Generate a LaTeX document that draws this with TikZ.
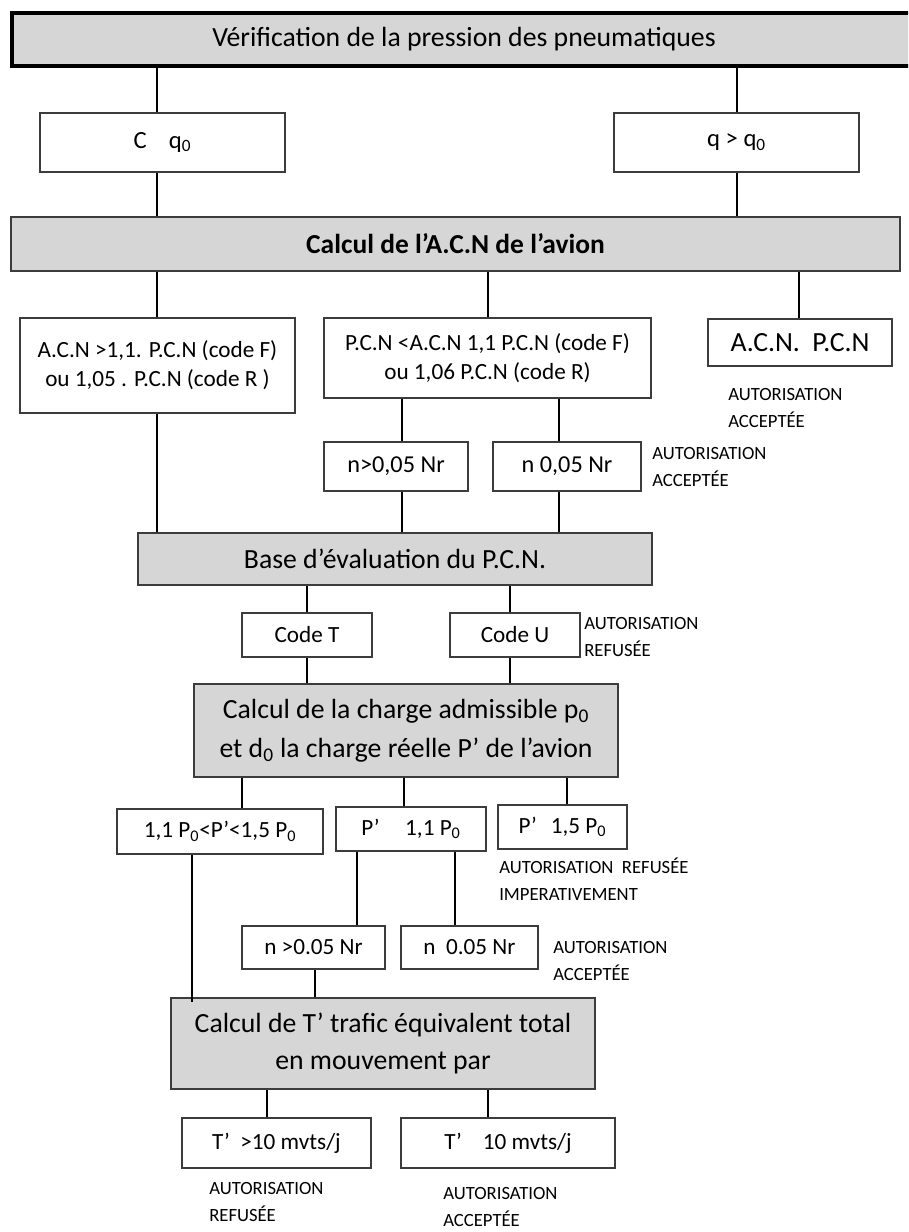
\documentclass[tikz,border=0pt]{standalone}
\usepackage{fontspec}
\setmainfont{Carlito}
\definecolor{greyc}{RGB}{214,214,214}
\definecolor{boxc}{RGB}{60,60,60}
\newcommand\boxat[7]{\node[#1, minimum width={(#4-#2)*0.75pt}, minimum height={(#5-#3)*0.75pt}] (#6) at ({(#2+#4)/2},{(#3+#5)/2}) {#7};}
\begin{document}
\begin{tikzpicture}[x=0.75pt,y=-0.75pt,
  box/.style={draw=boxc, line width=1.5pt, fill=white, inner sep=0pt, align=center, font=\fontsize{17.4}{21.8}\selectfont},
  greybox/.style={box, fill=greyc, font=\fontsize{20.8}{26.5}\selectfont},
  conn/.style={line width=1.8pt, draw=black},
  lab/.style={anchor=west, align=left, inner sep=0pt, font=\fontsize{14}{19.8}\selectfont}]
\clip (0,0) rectangle (908,1232);
\fill[white] (0,0) rectangle (908,1232);
% boxes
\boxat{greybox, draw=black, line width=3.6pt}{12}{13}{916}{66}{top}{Vérification de la pression des pneumatiques}
\boxat{box, font=\fontsize{18.5}{22}\selectfont}{40}{113}{285}{172}{c1}{C\hspace{0.9em}q\textsubscript{0}}
\boxat{box, font=\fontsize{18.5}{22}\selectfont}{614}{113}{859}{172}{c2}{q > q\textsubscript{0}}
\boxat{greybox, font=\bfseries\fontsize{20.6}{26}\selectfont}{11}{217}{900}{271}{acn}{Calcul de l’A.C.N de l’avion}
\boxat{box}{20}{318}{295}{413}{a1}{A.C.N >1,1. P.C.N (code F)\\ou 1,05 . P.C.N (code R )}
\boxat{box}{324}{318}{651}{398}{a2}{P.C.N <A.C.N 1,1 P.C.N (code F)\\ou 1,06 P.C.N (code R)}
\boxat{box, font=\fontsize{20.8}{26}\selectfont}{708}{319}{892}{366}{a3}{A.C.N.\ \ P.C.N}
\node[lab] (l1) at (728,408) {AUTORISATION\\ACCEPTÉE};
\boxat{box, font=\fontsize{18.2}{22}\selectfont}{324}{442}{468}{491}{n1}{n>0,05 Nr}
\boxat{box, font=\fontsize{18.2}{22}\selectfont}{493}{442}{641}{491}{n2}{n 0,05 Nr}
\node[lab] (l2) at (652,467) {AUTORISATION\\ACCEPTÉE};
\boxat{greybox}{138}{533}{652}{585}{base}{Base d’évaluation du P.C.N.}
\boxat{box}{242}{613}{372}{657}{ct}{Code T}
\boxat{box}{450}{613}{580}{657}{cu}{Code U}
\node[lab] (l3) at (584,637) {AUTORISATION\\REFUSÉE};
\boxat{greybox}{194}{684}{618}{777}{charge}{Calcul de la charge admissible p\textsubscript{0}\\[0.3ex]et d\textsubscript{0} la charge réelle P’ de l’avion}
\boxat{box}{117}{809}{323}{854}{p1}{1,1 P\textsubscript{0}<P’<1,5 P\textsubscript{0}}
\boxat{box}{336}{807}{486}{851}{p2}{P’\hspace{1.1em}1,1 P\textsubscript{0}}
\boxat{box}{498}{805}{627}{849}{p3}{P’\hspace{0.6em}1,5 P\textsubscript{0}}
\node[lab] (l4) at (499,879) {AUTORISATION\ \ REFUSÉE\\IMPERATIVEMENT};
\boxat{box}{242}{926}{385}{969}{m1}{n >0.05 Nr}
\boxat{box}{401}{926}{538}{969}{m2}{n\ \ 0.05 Nr}
\node[lab] (l5) at (553,961) {AUTORISATION\\ACCEPTÉE};
\boxat{greybox, font=\fontsize{20.8}{27.7}\selectfont}{171}{998}{595}{1089}{traf}{Calcul de T’ trafic équivalent total\\en mouvement par}
\boxat{box}{182}{1118}{371}{1168}{t1}{T’\ \ >10 mvts/j}
\boxat{box}{401}{1118}{615}{1168}{t2}{T’\hspace{0.9em}10 mvts/j}
\node[lab] (l6) at (209,1202) {AUTORISATION\\REFUSÉE};
\node[lab] (l7) at (443,1207) {AUTORISATION\\ACCEPTÉE};
% connectors
\draw[conn] (157,0 |- top.south) -- (157,0 |- c1.north);
\draw[conn] (737,0 |- top.south) -- (737,0 |- c2.north);
\draw[conn] (157,0 |- c1.south) -- (157,0 |- acn.north);
\draw[conn] (737,0 |- c2.south) -- (737,0 |- acn.north);
\draw[conn] (157,0 |- acn.south) -- (157,0 |- a1.north);
\draw[conn] (488,0 |- acn.south) -- (488,0 |- a2.north);
\draw[conn] (799,0 |- acn.south) -- (799,0 |- a3.north);
\draw[conn] (402,0 |- a2.south) -- (402,0 |- n1.north);
\draw[conn] (559,0 |- a2.south) -- (559,0 |- n2.north);
\draw[conn] (157,0 |- a1.south) -- (157,0 |- base.north);
\draw[conn] (402,0 |- n1.south) -- (402,0 |- base.north);
\draw[conn] (559,0 |- n2.south) -- (559,0 |- base.north);
\draw[conn] (307,0 |- base.south) -- (307,0 |- ct.north);
\draw[conn] (510,0 |- base.south) -- (510,0 |- cu.north);
\draw[conn] (307,0 |- ct.south) -- (307,0 |- charge.north);
\draw[conn] (510,0 |- cu.south) -- (510,0 |- charge.north);
\draw[conn] (242,0 |- charge.south) -- (242,0 |- p1.north);
\draw[conn] (404,0 |- charge.south) -- (404,0 |- p2.north);
\draw[conn] (567,0 |- charge.south) -- (567,0 |- p3.north);
\draw[conn] (192,0 |- p1.south) -- ([yshift=-4pt]192,0 |- traf.north);
\draw[conn] (357,0 |- p2.south) -- (357,0 |- m1.north);
\draw[conn] (455,0 |- p2.south) -- (455,0 |- m2.north);
\draw[conn] (315,0 |- m1.south) -- (315,0 |- traf.north);
\draw[conn] (267,0 |- traf.south) -- (267,0 |- t1.north);
\draw[conn] (488,0 |- traf.south) -- (488,0 |- t2.north);
\end{tikzpicture}
\end{document}
